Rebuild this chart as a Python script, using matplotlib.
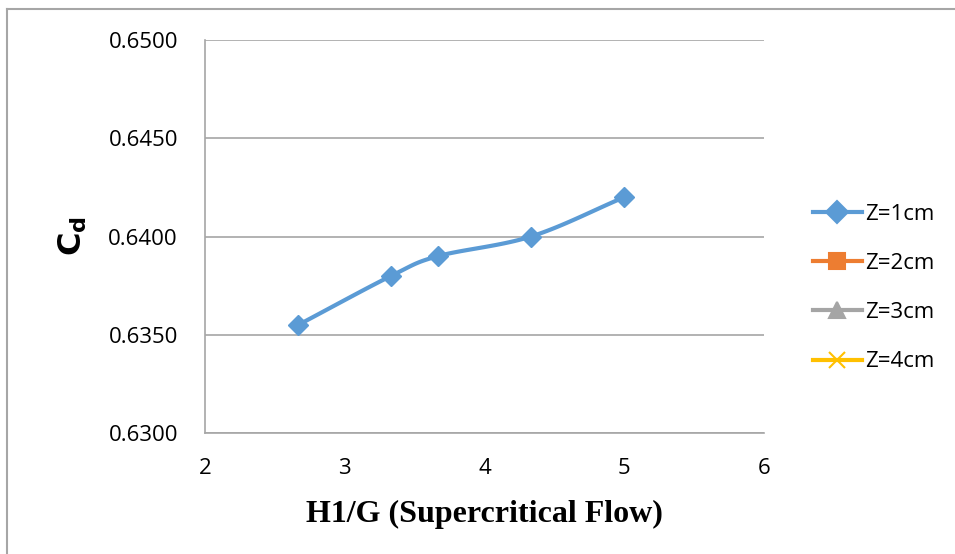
import matplotlib.pyplot as plt
import numpy as np
from matplotlib.lines import Line2D

# discharge coefficient vs. H1/G, supercritical flow
h1_g = [2.667, 3.333, 3.667, 4.333, 5.0]
cd_z1 = [0.6355, 0.6380, 0.6390, 0.6400, 0.6420]

series_labels = ['Z=1cm', 'Z=2cm', 'Z=3cm', 'Z=4cm']
series_colors = ['#5B9BD5', '#ED7D31', '#A5A5A5', '#FFC000']
series_markers = ['D', 's', '^', 'x']

x_ticks = [2, 3, 4, 5, 6]
y_ticks = [0.6300, 0.6350, 0.6400, 0.6450, 0.6500]

TICK_FONT = 'Open Sans'
GRID = '#A6A6A6'


def smooth_curve(x, y, n=30):
    # Catmull-Rom through the points, like a spreadsheet "smoothed line"
    x = np.asarray(x, float)
    y = np.asarray(y, float)
    px = np.concatenate(([2 * x[0] - x[1]], x, [2 * x[-1] - x[-2]]))
    py = np.concatenate(([2 * y[0] - y[1]], y, [2 * y[-1] - y[-2]]))
    out_x, out_y = [], []
    t = np.linspace(0, 1, n)
    for i in range(1, len(px) - 2):
        for p, out in ((px, out_x), (py, out_y)):
            p0, p1, p2, p3 = p[i - 1], p[i], p[i + 1], p[i + 2]
            seg = 0.5 * ((2 * p1) + (-p0 + p2) * t
                         + (2 * p0 - 5 * p1 + 4 * p2 - p3) * t ** 2
                         + (-p0 + 3 * p1 - 3 * p2 + p3) * t ** 3)
            out.extend(seg)
    return np.array(out_x), np.array(out_y)


fig = plt.figure(figsize=(9.55, 5.54), dpi=100)
ax = fig.add_axes([205 / 955, 1 - 433 / 554, (764 - 205) / 955, (433 - 40) / 554])

sx, sy = smooth_curve(h1_g, cd_z1)
ax.plot(sx, sy, color=series_colors[0], lw=3, solid_capstyle='round', zorder=3)
ax.plot(h1_g, cd_z1, ls='none', marker='D', ms=10.5, color=series_colors[0], zorder=4)

ax.set_xlim(2, 6)
ax.set_ylim(0.63, 0.65)
ax.set_xticks(x_ticks)
ax.set_yticks(y_ticks)
ax.set_xticklabels([str(v) for v in x_ticks], fontsize=16, family=TICK_FONT)
ax.set_yticklabels(['%.4f' % v for v in y_ticks], fontsize=16, family=TICK_FONT)
ax.tick_params(length=0)
ax.tick_params(axis='x', pad=18)
ax.tick_params(axis='y', pad=19.5)

ax.grid(axis='y', color=GRID, lw=1.2)
ax.set_axisbelow(True)
for side in ['top', 'right']:
    ax.spines[side].set_visible(False)
for side in ['left', 'bottom']:
    ax.spines[side].set_color(GRID)
    ax.spines[side].set_linewidth(1.2)

ax.set_xlabel('H1/G (Supercritical Flow)', family='Liberation Serif',
              fontsize=23, fontweight='bold', labelpad=15)
ax.set_ylabel(r'C$_\mathregular{d}$', family='DejaVu Sans', fontsize=23,
              fontweight='bold', labelpad=14)

handles = [Line2D([0], [0], color=c, lw=3, marker=m, ms=11 if m != 'x' else 12,
                  markeredgewidth=1.5)
           for c, m in zip(series_colors, series_markers)]
fig.legend(handles, series_labels, loc='center left', bbox_to_anchor=(793 / 955, 1 - 288 / 554),
           frameon=False, prop={'family': TICK_FONT, 'size': 16},
           handlelength=2.2, handletextpad=0.15, labelspacing=1.27)

# chart frame
fig.add_artist(Line2D([6.5 / 955, 1], [1 - 8.5 / 554] * 2, color=GRID, lw=1.5))
fig.add_artist(Line2D([6.5 / 955] * 2, [0, 1 - 8.5 / 554], color=GRID, lw=1.5))

fig.savefig('out.png', dpi=100)
